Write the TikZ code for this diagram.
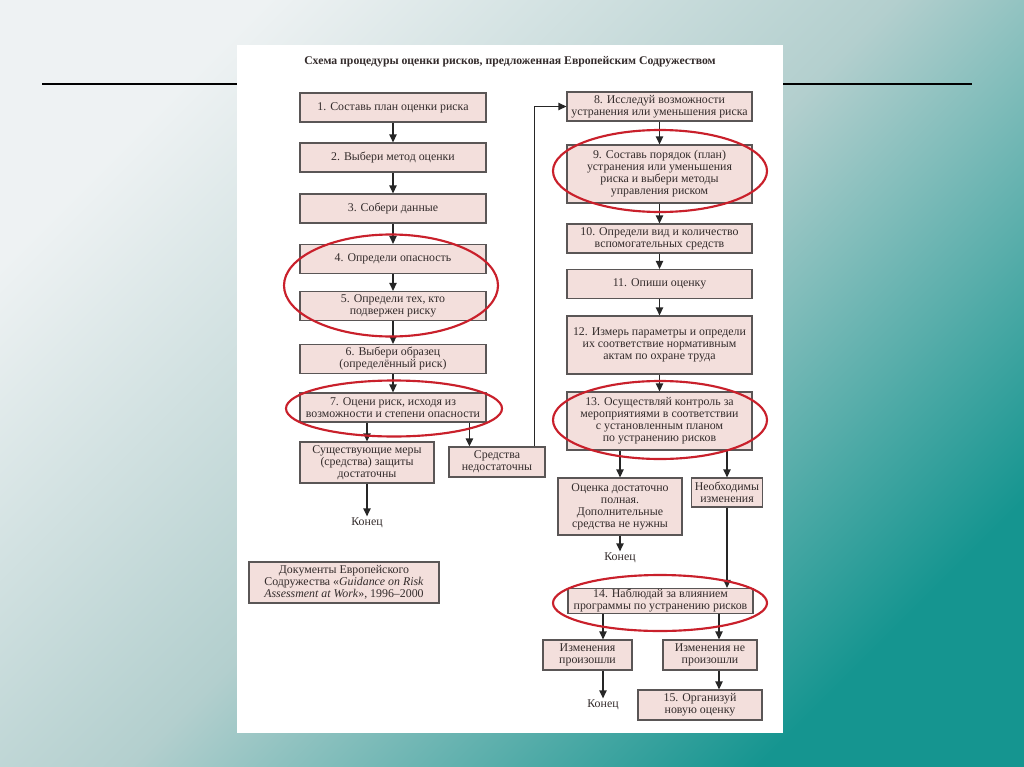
\documentclass[tikz,border=0pt]{standalone}
\usepackage{fontspec}
\setmainfont{Liberation Serif}
\usetikzlibrary{arrows.meta, calc, positioning}
\definecolor{boxfill}{HTML}{F3DFDC}
\definecolor{boxline}{HTML}{5A5656}
\definecolor{txt}{HTML}{332B2B}
\definecolor{ringred}{HTML}{C9202B}
\definecolor{bgtop}{HTML}{EEF2F3}
\definecolor{bgmid}{HTML}{B3CFCE}
\definecolor{bgbot}{HTML}{159590}
\newcommand{\stagefont}{\fontsize{8.9pt}{9pt}\selectfont}

\begin{document}
\begin{tikzpicture}[x=0.75pt, y=-0.75pt,
    stage/.style={draw=boxline, line width=0.9pt, fill=boxfill, align=center,
                  text=txt, font=\stagefont, inner sep=0pt},
    leftbox/.style={stage, minimum width=139.5pt, minimum height=21.75pt},
    rightbox/.style={stage, minimum width=138.75pt, minimum height=21.75pt},
    tallbox/.style={rightbox, minimum height=43.5pt},
    endword/.style={text=txt, font=\stagefont, inner sep=1pt},
    flow/.style={-{Triangle[length=6pt, width=5.5pt]}, line width=1.1pt, black!85},
    ring/.style={draw=ringred, line width=1.6pt},
]
% slide background
\shade[top color=bgtop, bottom color=bgbot, middle color=bgmid, shading angle=45]
   (0,0) rectangle (1024,767);
\useasboundingbox (0,0) rectangle (1024,767);
\draw[line width=1.9pt, black] (42,84) -- (972,84);
\fill[white] (237,45) rectangle (783,733);

\node[text=txt, font=\fontsize{8.8pt}{10pt}\selectfont\bfseries] (title) at (510,62)
   {Схема процедуры оценки рисков, предложенная Европейским Содружеством};

% left column
\node[leftbox] (s1) at (393,107.5) {1. Составь план оценки риска};
\node[leftbox] (s2) at (393,157.5) {2. Выбери метод оценки};
\node[leftbox] (s3) at (393,208.5) {3. Собери данные};
\node[leftbox] (s4) at (393,259)   {4. Определи опасность};
\node[leftbox] (s5) at (393,306)   {5. Определи тех, кто\\ подвержен риску};
\node[leftbox] (s6) at (393,359)   {6. Выбери образец\\ (определённый риск)};
\node[leftbox] (s7) at (393,407.5) {7. Оцени риск, исходя из\\ возможности и степени опасности};
\node[stage, minimum width=100.5pt, minimum height=30.75pt] (enough) at (367,462.5)
   {Существующие меры\\ (средства) защиты\\ достаточны};
\node[stage, minimum width=72pt, minimum height=22.5pt] (lack) at (497,462)
   {Средства\\ недостаточны};
\node[endword] (end1) at (367,523) {Конец};
\node[stage, minimum width=142.5pt, minimum height=30.75pt] (source) at (344,582.5)
   {Документы Европейского\\ Содружества «\textit{Guidance on Risk}\\ \textit{Assessment at Work}», 1996–2000};

% right column
\node[rightbox] (s8)  at (659.5,106.5) {8. Исследуй возможности\\ устранения или уменьшения риска};
\node[tallbox]  (s9)  at (659.5,174)   {9. Составь порядок (план)\\ устранения или уменьшения\\ риска и выбери методы\\ управления риском};
\node[rightbox] (s10) at (659.5,238.5) {10. Определи вид и количество\\ вспомогательных средств};
\node[rightbox] (s11) at (659.5,284)   {11. Опиши оценку};
\node[tallbox]  (s12) at (659.5,345)   {12. Измерь параметры и определи\\ их соответствие нормативным\\ актам по охране труда};
\node[tallbox]  (s13) at (659.5,421)   {13. Осуществляй контроль за\\ мероприятиями в соответствии\\ с установленным планом\\ по устранению рисков};
\node[stage, minimum width=93pt, minimum height=42.75pt] (full) at (620,506.5)
   {Оценка достаточно\\ полная.\\ Дополнительные\\ средства не нужны};
\node[stage, minimum width=53.25pt, minimum height=21.75pt] (change) at (727,492.5)
   {Необходимы\\ изменения};
\node[endword] (end2) at (620,558) {Конец};
\node[rightbox, minimum height=18.75pt] (s14) at (660.5,601)
   {14. Наблюдай за влиянием\\ программы по устранению рисков};
\node[stage, minimum width=66.75pt, minimum height=22.5pt] (done) at (587.5,655)
   {Изменения\\ произошли};
\node[stage, minimum width=70.5pt, minimum height=22.5pt] (notdone) at (710,655)
   {Изменения не\\ произошли};
\node[stage, minimum width=93pt, minimum height=22.5pt] (s15) at (700,705)
   {15. Организуй\\ новую оценку};
\node[endword] (end3) at (603,705) {Конец};

\coordinate (lackin) at ($(lack.north west)+(21,0)$);
\coordinate (lackup) at ($(lack.north east)+(-11,0)$);
\coordinate (notin)  at ($(notdone.north)+(9,0)$);

% arrows
\foreach \a/\b in {s1/s2, s2/s3, s3/s4, s4/s5, s5/s6, s6/s7,
                   s8/s9, s9/s10, s10/s11, s11/s12, s12/s13}
   \draw[flow] (\a) -- (\b);
\draw[flow] (s7.south -| enough) -- (enough.north);
\draw[flow] (s7.south -| lackin) -- (lackin);
\draw[flow] (enough) -- (end1);
\draw[flow] (lackup) |- (s8.west);
\draw[flow] (s13.south -| full) -- (full.north);
\draw[flow] (s13.south -| change) -- (change.north);
\draw[flow] (full) -- (end2);
\draw[flow] (change.south) -- (change.south |- s14.north);
\draw[flow] (s14.south -| end3) -- (end3 |- done.north);
\draw[flow] (done.south -| end3) -- (end3.north);
\draw[flow] (s14.south -| notin) -- (notin);
\draw[flow] (notdone.south -| notin) -- (notin |- s15.north);

% red marks
\draw[ring] (391,285.5) ellipse [x radius=107, y radius=51];
\draw[ring] (394,408.5) ellipse [x radius=108, y radius=28];
\draw[ring] (660,171)   ellipse [x radius=107, y radius=41];
\draw[ring] (660,420)   ellipse [x radius=107, y radius=39];
\draw[ring] (660,603)   ellipse [x radius=107, y radius=28];
\end{tikzpicture}
\end{document}
